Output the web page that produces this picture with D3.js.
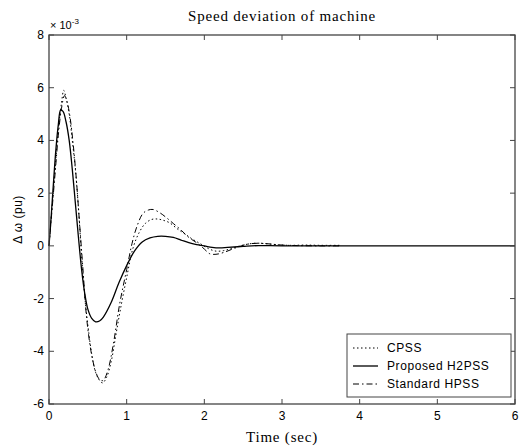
<!DOCTYPE html>
<html><head><meta charset="utf-8">
<script src="https://cdn.jsdelivr.net/npm/d3@7"></script>
<style>body{margin:0;background:#fff}svg{display:block}</style>
</head><body>
<script>
// values in units of 1e-3 pu
const tH2 = [0,0.03,0.06,0.09,0.12,0.15,0.18,0.22,0.26,0.3,0.34,0.38,0.42,0.46,0.5,0.55,0.6,0.65,0.7,0.8,0.9,1.0,1.1,1.2,1.3,1.4,1.5,1.6,1.7,1.8,1.9,2.0,2.1,2.2,2.3,2.5,2.7,3.0,6.0];
const vH2 = [0,1.2,2.5,3.7,4.6,5.15,5.1,4.7,4.0,2.9,1.6,0.3,-0.9,-1.8,-2.4,-2.75,-2.88,-2.85,-2.7,-2.15,-1.4,-0.75,-0.2,0.15,0.3,0.36,0.36,0.32,0.22,0.12,0.05,0.0,-0.06,-0.08,-0.06,-0.02,0.01,0,0];
const tCPSS = [0,0.04,0.08,0.12,0.16,0.19,0.22,0.26,0.3,0.34,0.38,0.42,0.46,0.5,0.55,0.6,0.65,0.69,0.74,0.8,0.86,0.92,1.0,1.08,1.16,1.24,1.32,1.39,1.46,1.55,1.65,1.75,1.85,1.95,2.05,2.15,2.25,2.35,2.5,2.65,2.8,2.95,3.1,3.3,3.5,3.75];
const vCPSS = [0,1.5,3.0,4.4,5.4,5.9,5.6,5.0,4.0,2.9,1.4,-0.4,-1.9,-3.0,-4.1,-4.8,-5.1,-5.2,-5.0,-4.4,-3.4,-2.4,-1.2,-0.1,0.5,0.85,1.0,1.02,0.98,0.88,0.65,0.45,0.25,0.08,-0.1,-0.2,-0.18,-0.1,0.03,0.1,0.08,0.04,0.02,0.03,0.02,0.02];
const tHPSS = [0,0.04,0.08,0.12,0.16,0.2,0.23,0.27,0.31,0.35,0.39,0.44,0.48,0.52,0.56,0.61,0.66,0.7,0.76,0.83,0.91,1.0,1.07,1.13,1.21,1.28,1.34,1.43,1.52,1.6,1.7,1.8,1.9,2.0,2.07,2.15,2.25,2.4,2.55,2.7,2.85,3.0,3.2,3.5,3.75];
const vHPSS = [0,1.4,2.8,4.2,5.2,5.7,5.5,4.9,3.9,2.6,1.0,-1.0,-2.6,-3.6,-4.3,-4.85,-5.1,-5.1,-4.7,-3.7,-2.2,-0.9,0.1,0.72,1.23,1.36,1.38,1.25,1.05,0.85,0.6,0.32,0.12,-0.12,-0.3,-0.32,-0.25,-0.08,0.06,0.1,0.07,0.03,0.01,0,0];
const xTicks = [0,1,2,3,4,5,6];
const yTicks = [-6,-4,-2,0,2,4,6,8];
const seriesNames = ["CPSS","Proposed H2PSS","Standard HPSS"];

const W = 521, H = 448;
const m = {l:49, r:515, t:35, b:404};
const svg = d3.select("body").append("svg").attr("width",W).attr("height",H);
const x = d3.scaleLinear().domain([0,6]).range([m.l,m.r]);
const y = d3.scaleLinear().domain([-6,8]).range([m.b,m.t]);

const series = [
  {name:seriesNames[0], t:tCPSS, v:vCPSS, dash:"1.5,2.5", w:1},
  {name:seriesNames[1], t:tH2, v:vH2, dash:null, w:1.3},
  {name:seriesNames[2], t:tHPSS, v:vHPSS, dash:"6,3,1.5,3", w:1}
];
const line = d3.line().x(d=>x(d[0])).y(d=>y(d[1])).curve(d3.curveCatmullRom);
series.forEach(s=>{
  svg.append("path").datum(s.t.map((t,i)=>[t,s.v[i]]))
    .attr("d",line).attr("fill","none").attr("stroke","#000")
    .attr("stroke-width",s.w).attr("stroke-dasharray",s.dash);
});

const axCol = "#444";
const font = "'Liberation Sans', Arial, sans-serif";
const serif = "'Liberation Serif', 'Times New Roman', serif";
svg.append("rect").attr("x",m.l).attr("y",m.t).attr("width",m.r-m.l).attr("height",m.b-m.t)
  .attr("fill","none").attr("stroke",axCol).attr("stroke-width",1.3);
const tl = 5;
xTicks.forEach(v=>{
  svg.append("line").attr("x1",x(v)).attr("x2",x(v)).attr("y1",m.b).attr("y2",m.b-tl).attr("stroke",axCol);
  svg.append("line").attr("x1",x(v)).attr("x2",x(v)).attr("y1",m.t).attr("y2",m.t+tl).attr("stroke",axCol);
  svg.append("text").attr("x",x(v)).attr("y",m.b+16).attr("text-anchor","middle")
    .attr("font-family",font).attr("font-size",12).text(v);
});
yTicks.forEach(v=>{
  svg.append("line").attr("x1",m.l).attr("x2",m.l+tl).attr("y1",y(v)).attr("y2",y(v)).attr("stroke",axCol);
  svg.append("line").attr("x1",m.r).attr("x2",m.r-tl).attr("y1",y(v)).attr("y2",y(v)).attr("stroke",axCol);
  svg.append("text").attr("x",m.l-5).attr("y",y(v)+4).attr("text-anchor","end")
    .attr("font-family",font).attr("font-size",12).text(v);
});
const ex = svg.append("text").attr("x",m.l+1).attr("y",m.t-6).attr("font-family",font).attr("font-size",11);
ex.append("tspan").text("× 10");
ex.append("tspan").attr("dy",-5).attr("font-size",8).text("-3");
svg.append("text").attr("x",(m.l+m.r)/2).attr("y",21).attr("text-anchor","middle")
  .attr("font-family",serif).attr("font-size",15).attr("letter-spacing",0.8).text("Speed deviation of machine");
svg.append("text").attr("x",(m.l+m.r)/2).attr("y",442).attr("text-anchor","middle")
  .attr("font-family",serif).attr("font-size",15).attr("letter-spacing",0.8).text("Time (sec)");
svg.append("text").attr("transform",`translate(22,${(m.t+m.b)/2}) rotate(-90)`).attr("text-anchor","middle")
  .attr("font-family",font).attr("font-size",12).attr("letter-spacing",0.5).text("Δ ω (pu)");
const lg = svg.append("g");
lg.append("rect").attr("x",347).attr("y",334).attr("width",164).attr("height",63)
  .attr("fill","#fff").attr("stroke",axCol).attr("stroke-width",1);
series.forEach((s,i)=>{
  const yy = 352 + i*18;
  lg.append("line").attr("x1",353).attr("x2",378).attr("y1",yy-4).attr("y2",yy-4)
    .attr("stroke","#000").attr("stroke-width",s.w).attr("stroke-dasharray",s.dash);
  lg.append("text").attr("x",387).attr("y",yy).attr("font-family",font).attr("font-size",12)
    .attr("letter-spacing",0.6).text(s.name);
});
</script>
</body></html>
